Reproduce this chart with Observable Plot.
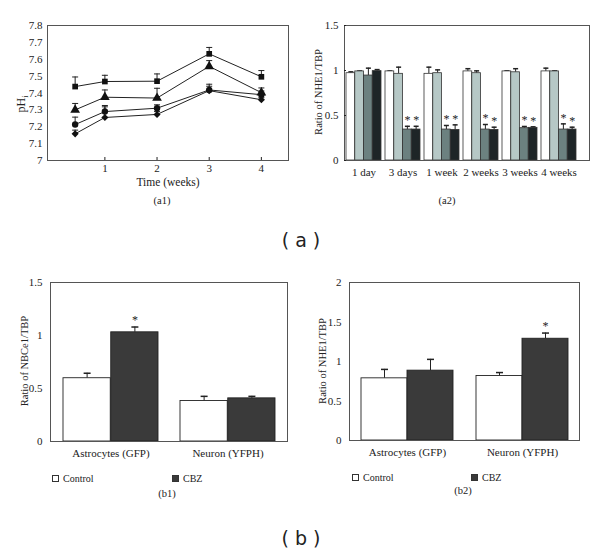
<!DOCTYPE html>
<html><head><meta charset="utf-8">
<script src="https://cdn.jsdelivr.net/npm/d3@7"></script>
<script src="https://cdn.jsdelivr.net/npm/@observablehq/plot@0.6"></script>
<style>
html,body{margin:0;padding:0;background:#fff;}
body{width:600px;height:552px;position:relative;overflow:hidden;font-family:"Liberation Serif",serif;color:#222;}
.panel{position:absolute;}
.panel text{font-family:"Liberation Serif",serif;}
.lbl{position:absolute;font-family:"Liberation Serif",serif;font-size:11px;color:#222;white-space:nowrap;transform:translate(-50%,-50%);}
.rot{position:absolute;font-family:"Liberation Serif",serif;font-size:11px;color:#222;white-space:nowrap;transform:translate(-50%,-50%) rotate(-90deg);}
.big{position:absolute;font-family:"DejaVu Sans",sans-serif;font-size:19px;color:#222;white-space:pre;transform:translate(-50%,-50%);}
.sw{position:absolute;width:7px;height:7px;border:1px solid #333;box-sizing:border-box;}
</style></head><body>
<script>
// ---------- data: panel a1 (pHi over time) ----------
const weeksA1 = [0.43, 1, 2, 3, 4];
const a1Ticks = [7, 7.1, 7.2, 7.3, 7.4, 7.5, 7.6, 7.7, 7.8];
const a1Square   = [7.438, 7.468, 7.470, 7.632, 7.496];
const a1SquareT  = [7.495, 7.505, 7.513, 7.670, 7.533];
const a1Triangle = [7.300, 7.375, 7.370, 7.558, 7.402];
const a1TriangleT= [7.338, 7.418, 7.428, 7.592, 7.430];
const a1Circle   = [7.213, 7.290, 7.310, 7.418, 7.390];
const a1CircleT  = [7.257, 7.326, 7.330, 7.452, 7.412];
const a1Diamond  = [7.158, 7.255, 7.273, 7.414, 7.360];
const a1DiamondT = [7.180, 7.318, 7.290, 7.440, 7.372];

// ---------- data: panel a2 (NHE1/TBP) ----------
const a2Cats = ["1 day", "3 days", "1 week", "2 weeks", "3 weeks", "4 weeks"];
const a2S1  = [0.970, 0.990, 0.963, 0.990, 0.990, 0.990];
const a2S1T = [0.985, 0.995, 1.037, 1.020, 0.996, 1.026];
const a2S2  = [0.990, 0.963, 0.970, 0.970, 0.980, 0.990];
const a2S2T = [0.995, 1.037, 1.007, 0.996, 1.020, 0.996];
const a2S3  = [0.944, 0.344, 0.344, 0.344, 0.359, 0.344];
const a2S3T = [1.026, 0.380, 0.389, 0.400, 0.378, 0.407];
const a2S4  = [0.993, 0.344, 0.340, 0.340, 0.363, 0.344];
const a2S4T = [1.010, 0.380, 0.396, 0.370, 0.374, 0.370];
const a2Sig3 = [false, true, true, true, true, true];
const a2Sig4 = [false, true, true, true, true, true];
const a2YTicks = [0, 0.5, 1, 1.5];

// ---------- data: panel b1 (NBCe1/TBP) ----------
const bCats = ["Astrocytes (GFP)", "Neuron (YFPH)"];
const b1Control  = [0.597, 0.382];
const b1ControlT = [0.644, 0.426];
const b1CBZ      = [1.030, 0.407];
const b1CBZT     = [1.080, 0.426];
const b1Sig      = [true, false];
const b1YTicks = [0, 0.5, 1, 1.5];

// ---------- data: panel b2 (NHE1/TBP) ----------
const b2Control  = [0.787, 0.817];
const b2ControlT = [0.900, 0.860];
const b2CBZ      = [0.884, 1.288];
const b2CBZT     = [1.027, 1.360];
const b2Sig      = [false, true];
const b2YTicks = [0, 0.5, 1, 1.5, 2];

// ---------- helpers ----------
const ink = "#222";
const frameStroke = "#555";
const capSymbol = {draw(ctx, size){ const r = Math.sqrt(size/Math.PI); ctx.moveTo(-r,0); ctx.lineTo(r,0); }};
const fmt = d3.format("~g");
const baseStyle = "font-family:'Liberation Serif',serif;font-size:11px;color:#222;background:transparent;overflow:visible;";

function place(el, left, top){ el.classList.add("panel"); el.style.left = left+"px"; el.style.top = top+"px"; document.body.appendChild(el); }
function label(cls, html, x, y, extra){ const d = document.createElement("div"); d.className = cls; d.innerHTML = html; d.style.left = x+"px"; d.style.top = y+"px"; if (extra) Object.assign(d.style, extra); document.body.appendChild(d); }

// ---------- a1 ----------
const a1Series = [
  {name:"square", symbol:"square", v:a1Square, t:a1SquareT},
  {name:"triangle", symbol:"triangle", v:a1Triangle, t:a1TriangleT},
  {name:"circle", symbol:"circle", v:a1Circle, t:a1CircleT},
  {name:"diamond", symbol:"diamond2", v:a1Diamond, t:a1DiamondT}
];
const a1Rows = a1Series.flatMap(s => weeksA1.map((w,i) => ({week:w, series:s.name, ph:s.v[i], top:s.t[i]})));
const a1 = Plot.plot({
  width:300, height:210, marginLeft:47, marginRight:12, marginTop:25, marginBottom:50,
  style: baseStyle,
  x:{domain:[-0.1, 4.52]},
  y:{domain:[7, 7.8]},
  marks:[
    Plot.frame({stroke:frameStroke}),
    Plot.axisX({ticks:[1,2,3,4], tickSize:-3, tickPadding:7, label:null, tickFormat:fmt}),
    Plot.axisY({ticks:a1Ticks, tickSize:0, tickPadding:5, label:null, tickFormat:fmt}),
    Plot.ruleX(a1Rows, {x:"week", y1:"ph", y2:"top", stroke:ink, strokeWidth:1}),
    Plot.dot(a1Rows, {x:"week", y:"top", symbol:capSymbol, r:3, stroke:ink, strokeWidth:1}),
    Plot.line(a1Rows, {x:"week", y:"ph", z:"series", stroke:ink, strokeWidth:1}),
    ...a1Series.map(s => Plot.dot(a1Rows.filter(d => d.series === s.name), {x:"week", y:"ph", symbol:s.symbol, r: s.symbol==="triangle"?3.6:3.2, fill:"#111", stroke:"none"}))
  ]
});
place(a1, 0, 0);

// ---------- a2 ----------
const a2Series = [
  {name:"s1", fill:"#ffffff", v:a2S1, t:a2S1T, sig:[false,false,false,false,false,false]},
  {name:"s2", fill:"#b6c8c6", v:a2S2, t:a2S2T, sig:[false,false,false,false,false,false]},
  {name:"s3", fill:"#6c8180", v:a2S3, t:a2S3T, sig:a2Sig3},
  {name:"s4", fill:"#1e2527", v:a2S4, t:a2S4T, sig:a2Sig4}
];
const a2X = {type:"band", domain:a2Cats, paddingInner:0.114, paddingOuter:0.157, align:0.16};
const a2Scale = Plot.scale({x:{...a2X, range:[44, 289]}});
const a2bw = a2Scale.bandwidth / a2Series.length;
const a2Marks = [];
a2Series.forEach((s, i) => {
  const rows = a2Cats.map((c, j) => ({cat:c, v:s.v[j], t:s.t[j], sig:s.sig[j]}));
  const dx = (i - (a2Series.length-1)/2) * a2bw;
  a2Marks.push(Plot.ruleX(rows, {x:"cat", y1:"v", y2:"t", dx, stroke:ink}));
  a2Marks.push(Plot.dot(rows, {x:"cat", y:"t", dx, symbol:capSymbol, r:2.5, stroke:ink}));
  a2Marks.push(Plot.barY(rows, {x:"cat", y:"v", fill:s.fill, stroke:"#333", strokeWidth:0.8, insetLeft:i*a2bw, insetRight:(a2Series.length-1-i)*a2bw}));
  a2Marks.push(Plot.text(rows.filter(d => d.sig), {x:"cat", y:"t", dx, dy:-6, text:() => "*", fontSize:12, fill:ink}));
});
const a2 = Plot.plot({
  width:300, height:210, marginLeft:44, marginRight:11, marginTop:25, marginBottom:50,
  style: baseStyle,
  x:{...a2X},
  y:{domain:[0, 1.5]},
  marks:[
    ...a2Marks,
    Plot.frame({stroke:frameStroke}),
    Plot.axisX({tickSize:0, tickPadding:8, label:null}),
    Plot.axisY({ticks:a2YTicks, tickSize:-2, tickPadding:8, label:null, tickFormat:fmt})
  ]
});
place(a2, 300, 0);

// ---------- b panels ----------
function bPanel(control, controlT, cbz, cbzT, sig, yDomain, yTicks, margins, xOpts){
  const ser = [
    {fill:"#ffffff", v:control, t:controlT, sig:[false,false]},
    {fill:"#3a3a3a", v:cbz, t:cbzT, sig:sig}
  ];
  const sc = Plot.scale({x:{type:"band", domain:bCats, ...xOpts, range:[margins.left, 300 - margins.right]}});
  const bw = sc.bandwidth / ser.length;
  const marks = [];
  ser.forEach((s, i) => {
    const rows = bCats.map((c, j) => ({cat:c, v:s.v[j], t:s.t[j], sig:s.sig[j]}));
    const dx = (i - 0.5) * bw;
    marks.push(Plot.ruleX(rows, {x:"cat", y1:"v", y2:"t", dx, stroke:ink}));
    marks.push(Plot.dot(rows, {x:"cat", y:"t", dx, symbol:capSymbol, r:3.5, stroke:ink}));
    marks.push(Plot.barY(rows, {x:"cat", y:"v", fill:s.fill, stroke:"#222", strokeWidth:0.9, insetLeft:i*bw, insetRight:(ser.length-1-i)*bw}));
    marks.push(Plot.text(rows.filter(d => d.sig), {x:"cat", y:"t", dx, dy:-7, text:() => "*", fontSize:12, fill:ink}));
  });
  return Plot.plot({
    width:300, height:250, marginLeft:margins.left, marginRight:margins.right, marginTop:22, marginBottom:margins.bottom,
    style: baseStyle,
    x:{type:"band", domain:bCats, ...xOpts},
    y:{domain:yDomain},
    marks:[
      ...marks,
      Plot.frame({stroke:frameStroke}),
      Plot.axisX({tickSize:0, tickPadding:8, label:null}),
      Plot.axisY({ticks:yTicks, tickSize:0, tickPadding:8, label:null, tickFormat:fmt})
    ]
  });
}
const b1 = bPanel(b1Control, b1ControlT, b1CBZ, b1CBZT, b1Sig, [0, 1.5], b1YTicks, {left:50, right:13, bottom:69}, {paddingInner:0.19, paddingOuter:0.1});
place(b1, 0, 260);
const b2 = bPanel(b2Control, b2ControlT, b2CBZ, b2CBZT, b2Sig, [0, 2], b2YTicks, {left:49, right:21, bottom:70}, {paddingInner:0.2, paddingOuter:0.1});
place(b2, 300, 260);

// ---------- text ----------
label("rot", "pH<sub style='font-size:8px'>i</sub>", 22, 104, {fontSize:"12px"});
label("lbl", "Time (weeks)", 168, 182, {fontSize:"11.5px"});
label("lbl", "(a1)", 162, 200, {fontSize:"10.5px"});
label("rot", "Ratio of NHE1/TBP", 318, 92, {fontSize:"10.5px"});
label("lbl", "(a2)", 447, 200, {fontSize:"10.5px"});
label("big", "( a )", 301, 240);

label("rot", "Ratio of NBCe1/TBP", 24, 361, {fontSize:"10.5px"});
label("rot", "Ratio of NHE1/TBP", 322, 361, {fontSize:"10.5px"});
label("lbl", "(b1)", 167, 493, {fontSize:"10.5px"});
label("lbl", "(b2)", 463, 490, {fontSize:"10.5px"});
label("big", "( b )", 301, 538);

function legendItem(x, y, fill, text){
  const s = document.createElement("div"); s.className = "sw"; s.style.left = x+"px"; s.style.top = (y-3.5)+"px"; s.style.background = fill; document.body.appendChild(s);
  const t = document.createElement("div"); t.className = "lbl"; t.textContent = text; t.style.left = (x+11)+"px"; t.style.top = y+"px"; t.style.transform = "translate(0,-50%)"; t.style.fontSize = "10px"; document.body.appendChild(t);
}
legendItem(52, 478, "#ffffff", "Control");
legendItem(172, 478, "#3a3a3a", "CBZ");
legendItem(352, 477, "#ffffff", "Control");
legendItem(471, 477, "#3a3a3a", "CBZ");
</script>
</body></html>
